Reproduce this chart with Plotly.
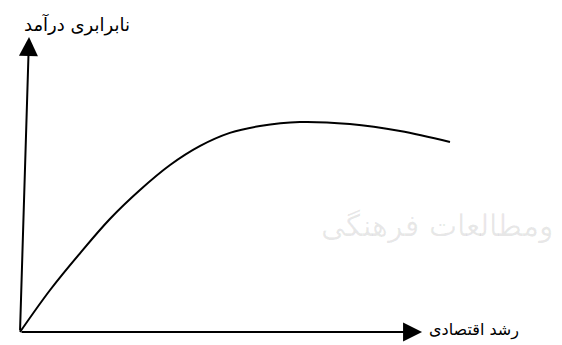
import plotly.graph_objects as go

# Economic growth (x) vs income inequality (y), arbitrary units
growth = [0, 7.0, 14.0, 20.9, 27.9, 34.9, 41.9, 48.8, 55.8, 65.1, 76.7, 88.4, 100]
inequality = [0, 20.0, 37.6, 53.8, 67.6, 79.5, 88.6, 94.8, 98.1, 100.0, 99.0, 95.7, 90.5]

y_label = "نابرابری درآمد"
x_label = "رشد اقتصادی"
watermark = "ومطالعات فرهنگی"

# page has an 8px body margin, so the figure is drawn 8px smaller
PAGE_W, PAGE_H, BODY = 562, 345, 8
W, H = PAGE_W - BODY, PAGE_H - BODY
ox, oy = 20 - BODY, 332 - BODY   # origin in figure pixels
sx, sy = 4.3, 2.1                 # pixels per data unit

x_range = [-ox / sx, (W - ox) / sx]
y_range = [-(H - oy) / sy, oy / sy]

fig = go.Figure()

FONT = "DejaVu Sans"

# watermark (faint)
fig.add_annotation(x=(555 - 20) / sx, y=(332 - 226) / sy, text=watermark,
                   showarrow=False, xanchor="right", yanchor="middle",
                   font=dict(family="DejaVu Serif", size=30, color="rgba(0,0,0,0.09)"))

fig.add_trace(go.Scatter(
    x=growth, y=inequality, mode="lines",
    line=dict(color="black", width=2, shape="spline", smoothing=1.0),
    hoverinfo="skip", showlegend=False,
))

# y axis arrow (slightly slanted)
fig.add_annotation(x=2.1, y=140.5, ax=0, ay=0, xref="x", yref="y", axref="x", ayref="y",
                   text="", showarrow=True, arrowhead=2, arrowsize=1.9, arrowwidth=2,
                   arrowcolor="black", standoff=0, startstandoff=0)
# x axis arrow
fig.add_annotation(x=93.5, y=0, ax=0, ay=0, xref="x", yref="y", axref="x", ayref="y",
                   text="", showarrow=True, arrowhead=2, arrowsize=1.9, arrowwidth=2,
                   arrowcolor="black", standoff=0, startstandoff=0)

fig.add_annotation(x=13.3, y=146.2, text=y_label, showarrow=False,
                   xanchor="center", yanchor="middle",
                   font=dict(family=FONT, size=18, color="black"))
fig.add_annotation(x=94.6, y=1.0, text=x_label, showarrow=False,
                   xanchor="left", yanchor="middle",
                   font=dict(family=FONT, size=16, color="black"))

fig.update_layout(
    width=W, height=H,
    margin=dict(l=0, r=0, t=0, b=0),
    paper_bgcolor="white", plot_bgcolor="white",
    xaxis=dict(range=x_range, visible=False, fixedrange=True),
    yaxis=dict(range=y_range, visible=False, fixedrange=True),
    showlegend=False,
)

fig.write_html("out.html")
